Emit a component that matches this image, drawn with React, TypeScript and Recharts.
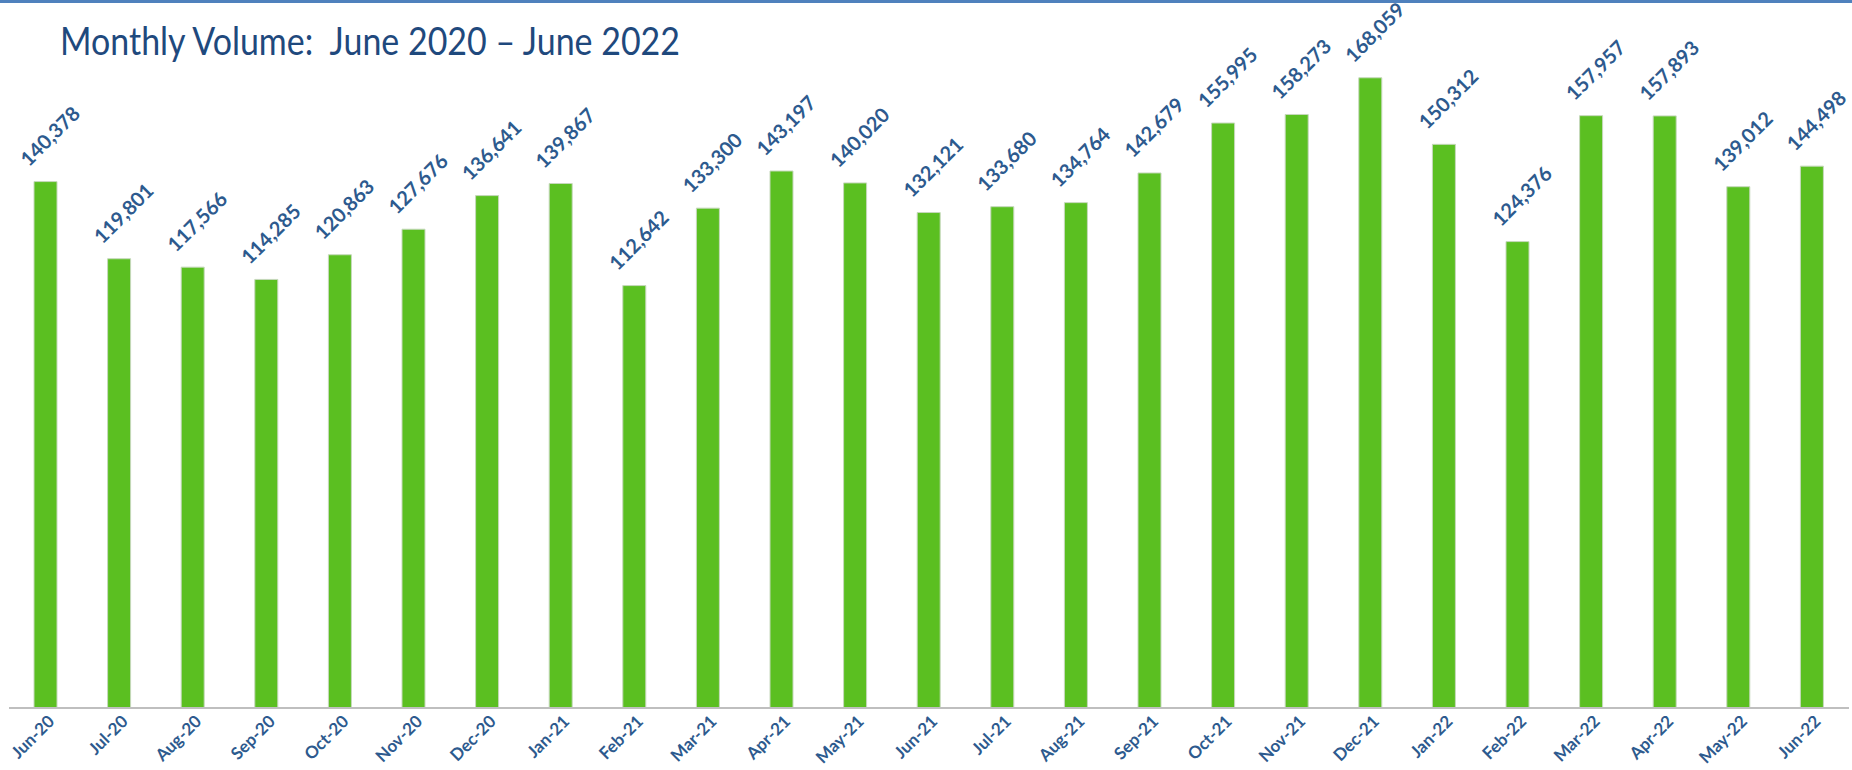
import React from 'react';
import { BarChart, Bar, XAxis, YAxis, LabelList } from 'recharts';

const months = [
  'Jun-20', 'Jul-20', 'Aug-20', 'Sep-20', 'Oct-20', 'Nov-20', 'Dec-20',
  'Jan-21', 'Feb-21', 'Mar-21', 'Apr-21', 'May-21', 'Jun-21', 'Jul-21',
  'Aug-21', 'Sep-21', 'Oct-21', 'Nov-21', 'Dec-21', 'Jan-22', 'Feb-22',
  'Mar-22', 'Apr-22', 'May-22', 'Jun-22',
];

const volumes = [
  140378, 119801, 117566, 114285, 120863, 127676, 136641,
  139867, 112642, 133300, 143197, 140020, 132121, 133680,
  134764, 142679, 155995, 158273, 168059, 150312, 124376,
  157957, 157893, 139012, 144498,
];

// boundaries between months, used only for the tick marks
const boundaryTicks = months.map((_, i) => i).concat(months.length);

const data = months.map((m, i) => ({ month: m, volume: volumes[i] }));

const BLUE = '#2d5a8e';

const ValueLabel = (props: any) => {
  const { x, y, width, value } = props;
  const cx = x + width / 2 + 4;
  const cy = y - 46;
  return (
    <text
      x={cx}
      y={cy}
      transform={`rotate(-45 ${cx} ${cy})`}
      textAnchor="middle"
      dominantBaseline="central"
      fill={BLUE}
      fontFamily="Lato, 'Open Sans', sans-serif"
      fontWeight="bold"
      fontSize={20}
    >
      {Number(value).toLocaleString('en-US')}
    </text>
  );
};

const MonthTick = (props: any) => {
  const { x, y, payload } = props;
  const tx = x + 5;
  const ty = y + 2;
  return (
    <text
      x={tx}
      y={ty}
      transform={`rotate(-45 ${tx} ${ty})`}
      textAnchor="end"
      dominantBaseline="central"
      fill={BLUE}
      fontFamily="Lato, 'Open Sans', sans-serif"
      fontWeight="bold"
      fontSize={17}
    >
      {payload.value}
    </text>
  );
};

const App = () => {
  return (
    <div style={{ position: 'absolute', left: 0, top: 0, width: 1852, height: 770, background: '#fff' }}>
      <div style={{ position: 'absolute', left: 0, top: 0, width: 1852, height: 3, background: '#4f81bd' }} />
      <BarChart
        width={1852}
        height={770}
        data={data}
        margin={{ top: 33, right: 3, left: 9, bottom: 7 }}
      >
        <XAxis
          xAxisId="ticks"
          type="number"
          domain={[0, months.length]}
          ticks={boundaryTicks}
          allowDataOverflow
          height={0}
          axisLine={false}
          tick={() => <g />}
          tickLine={{ stroke: '#bfbfbf' }}
          tickSize={5}
        />
        <XAxis
          xAxisId="cat"
          dataKey="month"
          height={55}
          interval={0}
          axisLine={{ stroke: '#bfbfbf', strokeWidth: 2 }}
          tickLine={false}
          tick={<MonthTick />}
        />
        <YAxis hide domain={[0, 180000]} />
        <Bar
          xAxisId="cat"
          dataKey="volume"
          fill="#5bbf21"
          stroke="#c6d8bc"
          strokeWidth={1}
          barSize={23}
          isAnimationActive={false}
        >
          <LabelList dataKey="volume" content={<ValueLabel />} />
        </Bar>
      </BarChart>
      <svg style={{ position: 'absolute', left: 0, top: 0 }} width={720} height={80}>
        <text
          x={60}
          y={55}
          fill="#1f497d"
          fontFamily="Lato, 'Open Sans', sans-serif"
          fontSize={38}
          textLength={620}
          lengthAdjust="spacingAndGlyphs"
        >
          Monthly Volume:{'\u00a0\u00a0'}June 2020 – June 2022
        </text>
      </svg>
    </div>
  );
};

export default App;
